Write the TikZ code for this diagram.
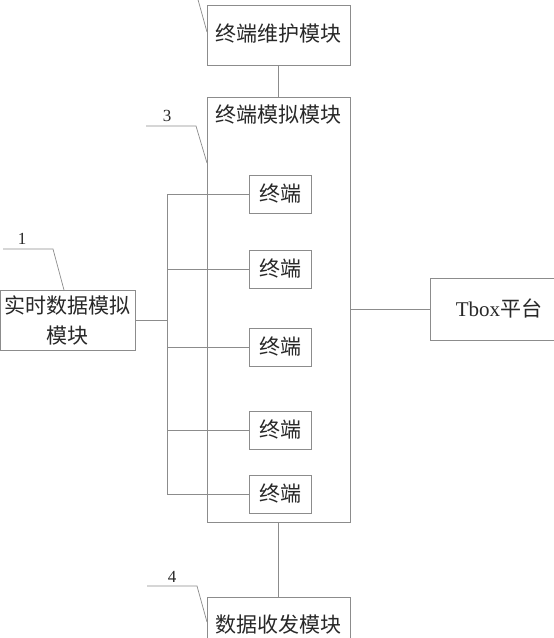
\documentclass[tikz,border=0pt]{standalone}
\usepackage{fontspec}
\setmainfont{Liberation Serif}
\newfontfamily\cjk{Noto Sans CJK SC}
\definecolor{linec}{RGB}{140,140,140}
\definecolor{txtc}{RGB}{40,40,40}
\begin{document}
\begin{tikzpicture}[x=1pt,y=-1pt,
  every node/.style={text=txtc},
  box/.style={draw=linec,line width=0.8pt,rectangle,inner sep=0pt},
  term/.style={box,minimum width=62pt,minimum height=38pt,font=\cjk\fontsize{21}{24}\selectfont},
  lbl/.style={font=\cjk\fontsize{21}{24}\selectfont,inner sep=0pt},
  num/.style={font=\rmfamily\fontsize{17}{20}\selectfont,inner sep=0pt},
  wire/.style={draw=linec,line width=0.8pt},
  leader/.style={draw=linec,line width=0.7pt}]
\useasboundingbox (0,0) rectangle (554,638);
\clip (0,0) rectangle (554,638);
\fill[white] (0,0) rectangle (554,638);
% boxes
\node[box,minimum width=143pt,minimum height=60pt] (maint) at (278.5,35) {};
\node[lbl] (maintt) at (278.5,34) {终端维护模块};
\node[box,minimum width=143pt,minimum height=425pt] (sim) at (278.5,309.5) {};
\node[lbl] (simt) at (278.5,115) {终端模拟模块};
\node[term] (t1) at (280,194) {终端};
\node[term] (t2) at (280,269) {终端};
\node[term] (t3) at (280,347) {终端};
\node[term] (t4) at (280,430) {终端};
\node[term] (t5) at (280,494) {终端};
\node[box,minimum width=135pt,minimum height=60pt,align=center,font=\cjk\fontsize{21}{30}\selectfont] (rt) at (67.5,320) {实时数据模拟\\模块};
\node[box,minimum width=150pt,minimum height=62pt] (tbox) at (505,309) {};
\node[inner sep=0pt,font=\rmfamily\fontsize{21}{24}\selectfont] (tboxt) at (499,308) {Tbox{\cjk 平台}};
\node[box,minimum width=143pt,minimum height=70pt] (data) at (278.5,632) {};
\node[lbl] (datat) at (278.5,625) {数据收发模块};
% connectors
\draw[wire] (maint.south) -- (sim.north);
\draw[wire] (sim.south) -- (data.north);
\draw[wire] (sim.east |- tbox.west) -- (tbox.west);
\coordinate (bus1) at (167,194);
\coordinate (bus5) at (167,494);
\draw[wire] (bus1) -- (bus5);
\draw[wire] (bus1) -- (t1.west);
\draw[wire] (bus1 |- t2.west) -- (t2.west);
\draw[wire] (bus1 |- t3.west) -- (t3.west);
\draw[wire] (bus1 |- t4.west) -- (t4.west);
\draw[wire] (bus5) -- (t5.west);
\draw[wire] (rt.east) -- (bus1 |- rt.east);
% leaders
\coordinate (l0a) at (197,-4);
\coordinate (l0b) at (207,32);
\draw[leader] (l0a) -- (l0b);
\node[num] (n3) at (167,116) {3};
\coordinate (l3a) at (146,126);
\coordinate (l3b) at (196,126);
\coordinate (l3c) at (207,163);
\draw[leader] (l3a) -- (l3b) -- (l3c);
\node[num] (n1) at (22,239) {1};
\coordinate (l1a) at (3,249);
\coordinate (l1b) at (53,249);
\coordinate (l1c) at (64,290);
\draw[leader] (l1a) -- (l1b) -- (l1c);
\node[num] (n4) at (172,577) {4};
\coordinate (l4a) at (147,586);
\coordinate (l4b) at (197,586);
\coordinate (l4c) at (207,622);
\draw[leader] (l4a) -- (l4b) -- (l4c);
\end{tikzpicture}
\end{document}
